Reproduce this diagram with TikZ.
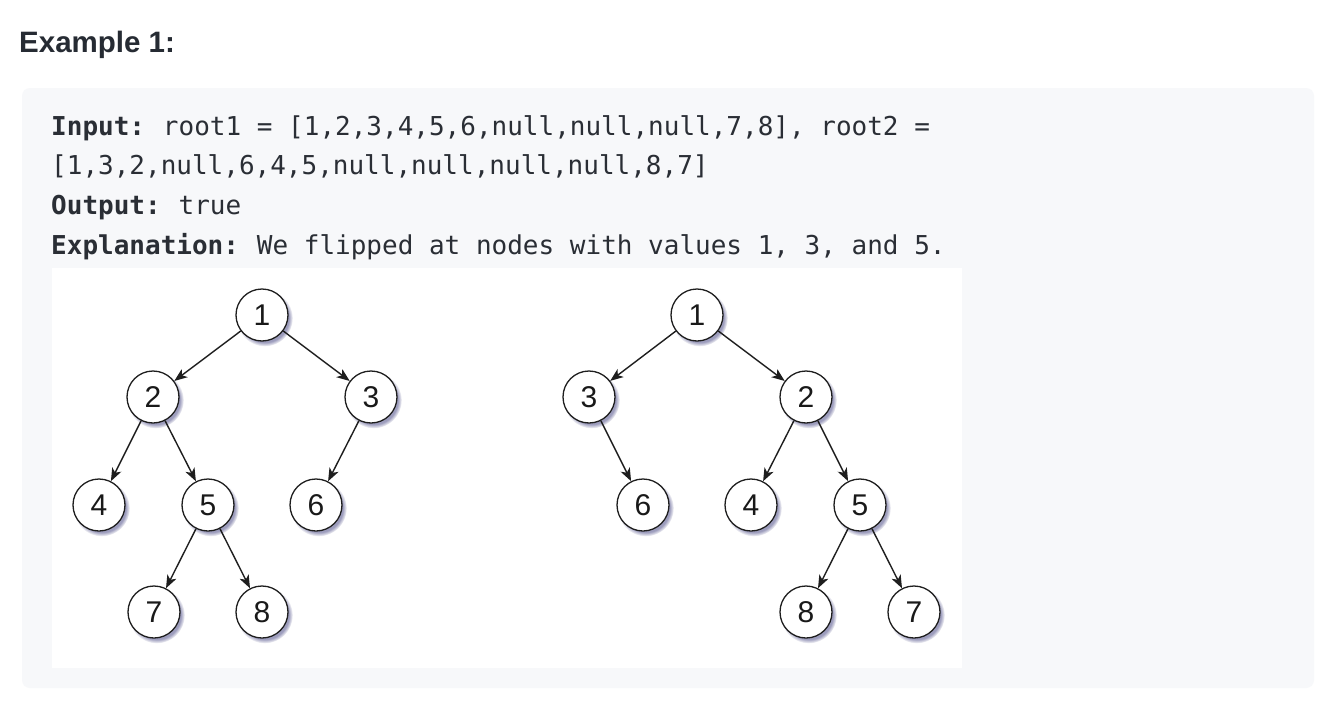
\documentclass[tikz,border=0pt]{standalone}
\usepackage{fontspec}
\usetikzlibrary{arrows.meta,shadows,fadings}
\setmainfont{Liberation Sans}
\newfontfamily\codefont{DejaVu Sans Mono}
\newfontfamily\labelfont{Liberation Sans}

\definecolor{pagebg}{HTML}{FFFFFF}
\definecolor{boxbg}{HTML}{F7F8FA}
\definecolor{titleink}{HTML}{262B33}
\definecolor{codeink}{HTML}{2A2E35}
\definecolor{edgeink}{HTML}{1E1E1E}
\definecolor{shadowink}{HTML}{5A5A90}

\tikzset{
  treenode/.style={circle, draw=edgeink, line width=1.3pt, fill=white,
    minimum size=52pt, inner sep=0pt,
    font=\labelfont\fontsize{30}{32}\selectfont, text=black!90,
    circular drop shadow={shadow xshift=2.5pt, shadow yshift=-3pt,
      shadow scale=1.08, fill=shadowink, opacity=0.6}},
  edge/.style={draw=edgeink, line width=1.4pt,
    -{Stealth[length=13pt, width=10pt, inset=3.5pt]}},
  codeline/.style={anchor=base west, inner sep=0pt, text=codeink,
    font=\codefont\fontsize{26}{30}\selectfont}
}

\begin{document}
\begin{tikzpicture}[x=1pt, y=-1pt]
  % canvas
  \fill[pagebg] (0,0) rectangle (1334,704);
  \useasboundingbox (0,0) rectangle (1334,704);

  % heading
  \node[anchor=base west, inner sep=0pt, text=titleink,
        font=\bfseries\fontsize{29.5}{32}\selectfont] (title) at (19,52) {Example 1:};

  % example panel
  \fill[boxbg, rounded corners=8pt] (22,88) rectangle (1314,688);

  % input / output text
  \node[codeline] (l1) at (51,135) {\textbf{Input:}\hspace{-3pt} root1 = [1,2,3,4,5,6,null,null,null,7,8], root2 =};
  \node[codeline] (l2) at (51,174.5) {[1,3,2,null,6,4,5,null,null,null,null,8,7]};
  \node[codeline] (l3) at (51,214.5) {\textbf{Output:}\hspace{-3pt} true};
  \node[codeline] (l4) at (51,254) {\textbf{Explanation:}\hspace{-3pt} We flipped at nodes with values 1, 3, and 5.};

  % picture area
  \fill[white] (52,268) rectangle (962,668);

  % first tree
  \node[treenode] (a1) at (262,315) {1};
  \node[treenode] (a2) at (153,397) {2};
  \node[treenode] (a3) at (371,397) {3};
  \node[treenode] (a4) at (99,505)  {4};
  \node[treenode] (a5) at (208,505) {5};
  \node[treenode] (a6) at (316,505) {6};
  \node[treenode] (a7) at (154,612) {7};
  \node[treenode] (a8) at (262,612) {8};

  % second tree
  \node[treenode] (b1) at (697,315) {1};
  \node[treenode] (b3) at (589,397) {3};
  \node[treenode] (b2) at (806,397) {2};
  \node[treenode] (b6) at (643,505) {6};
  \node[treenode] (b4) at (751,505) {4};
  \node[treenode] (b5) at (860,505) {5};
  \node[treenode] (b8) at (806,612) {8};
  \node[treenode] (b7) at (914,612) {7};

  % parent -> child links
  \draw[edge] (a1) -- (a2);
  \draw[edge] (a1) -- (a3);
  \draw[edge] (a2) -- (a4);
  \draw[edge] (a2) -- (a5);
  \draw[edge] (a3) -- (a6);
  \draw[edge] (a5) -- (a7);
  \draw[edge] (a5) -- (a8);

  \draw[edge] (b1) -- (b3);
  \draw[edge] (b1) -- (b2);
  \draw[edge] (b3) -- (b6);
  \draw[edge] (b2) -- (b4);
  \draw[edge] (b2) -- (b5);
  \draw[edge] (b5) -- (b8);
  \draw[edge] (b5) -- (b7);
\end{tikzpicture}
\end{document}
